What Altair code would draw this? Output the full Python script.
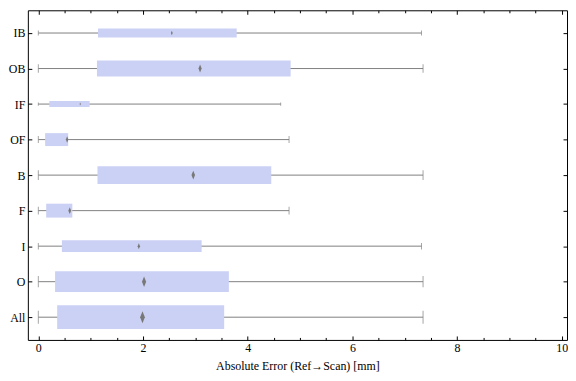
import altair as alt
import pandas as pd

categories = ["IB", "OB", "IF", "OF", "B", "F", "I", "O", "All"]
whisker_min = [0, 0, 0, 0, 0, 0, 0, 0, 0]
quartile1 = [1.14, 1.12, 0.21, 0.13, 1.13, 0.15, 0.45, 0.32, 0.36]
medians = [2.55, 3.09, 0.80, 0.55, 2.96, 0.60, 1.92, 2.02, 1.99]
quartile3 = [3.79, 4.82, 0.98, 0.57, 4.45, 0.65, 3.12, 3.64, 3.55]
whisker_max = [7.32, 7.35, 4.63, 4.79, 7.35, 4.79, 7.32, 7.35, 7.35]
box_weight = [9, 16, 6, 13, 18, 14, 12, 21, 24]

df = pd.DataFrame({
    "cat": categories,
    "lo": whisker_min,
    "q1": quartile1,
    "med": medians,
    "q3": quartile3,
    "hi": whisker_max,
    "w": box_weight,
})

FONT = "Liberation Serif"
xs = alt.Scale(domain=[-0.2, 10.1], nice=False, zero=False)
ys = alt.Scale(type="point", padding=0.64)

major_vals = [0, 2, 4, 6, 8, 10]
minor_vals = [v * 0.5 for v in range(0, 21) if (v * 0.5) % 2 != 0]

common = dict(domain=False, grid=False, tickColor="black", tickWidth=1)

ax_bottom_major = alt.Axis(orient="bottom", values=major_vals, tickSize=4, offset=-4,
                           labelPadding=3, labelFont=FONT, labelFontSize=12, labelColor="black",
                           title="Absolute Error (Ref\u2192Scan) [mm]", titleFont=FONT,
                           titleFontSize=12, titleFontWeight="normal", titleColor="black",
                           titlePadding=7, format="d", **common)
ax_bottom_minor = alt.Axis(orient="bottom", values=minor_vals, tickSize=2.5, offset=-2.5,
                           labels=False, title=None, **common)
ax_top_major = alt.Axis(orient="top", values=major_vals, tickSize=4, offset=-4,
                        labels=False, title=None, **common)
ax_top_minor = alt.Axis(orient="top", values=minor_vals, tickSize=2.5, offset=-2.5,
                        labels=False, title=None, **common)
ax_left = alt.Axis(orient="left", tickSize=4, offset=-4, labelPadding=3, labelFont=FONT,
                   labelFontSize=12, labelColor="black", title=None, **common)
ax_right = alt.Axis(orient="right", tickSize=4, offset=-4, labels=False, title=None, **common)

base = alt.Chart(df)

whisker = base.mark_rule(color="#808080", strokeWidth=1).encode(
    x=alt.X("lo:Q", scale=xs, axis=ax_bottom_major),
    x2="hi:Q",
    y=alt.Y("cat:N", sort=categories, scale=ys, axis=ax_left),
)

box = base.mark_bar(color="#cbd1f4", opacity=1).encode(
    x=alt.X("q1:Q", scale=xs, axis=ax_bottom_minor),
    x2="q3:Q",
    y=alt.Y("cat:N", sort=categories, scale=ys, axis=ax_right),
    size=alt.Size("w:Q", scale=alt.Scale(domain=[0, 24], range=[0, 24]), legend=None),
)

caps = base.transform_fold(["lo", "hi"], as_=["end", "xv"]).mark_tick(
    color="#808080", thickness=1
).encode(
    x=alt.X("xv:Q", scale=xs, axis=ax_top_major),
    y=alt.Y("cat:N", sort=categories, scale=ys, axis=None),
    size=alt.Size("w:Q", scale=alt.Scale(domain=[0, 24], range=[0, 13]), legend=None),
)

median = base.mark_point(
    shape="M0,-1L0.4,0L0,1L-0.4,0Z", filled=True, color="#787878", opacity=1, strokeWidth=0
).encode(
    x=alt.X("med:Q", scale=xs, axis=ax_top_minor),
    y=alt.Y("cat:N", sort=categories, scale=ys, axis=None),
    size=alt.Size("w:Q", scale=alt.Scale(type="pow", exponent=2, domain=[0, 24], range=[0, 144]),
                  legend=None),
)

chart = alt.layer(whisker, box, caps, median).resolve_axis(
    x="independent", y="independent"
).resolve_scale(size="independent").properties(
    width=543, height=332,
    padding={"left": 0, "top": 0, "right": 0, "bottom": 0},
).configure_view(stroke="black", strokeWidth=1)

chart.save("out.html", embed_options={"renderer": "svg", "actions": False})
